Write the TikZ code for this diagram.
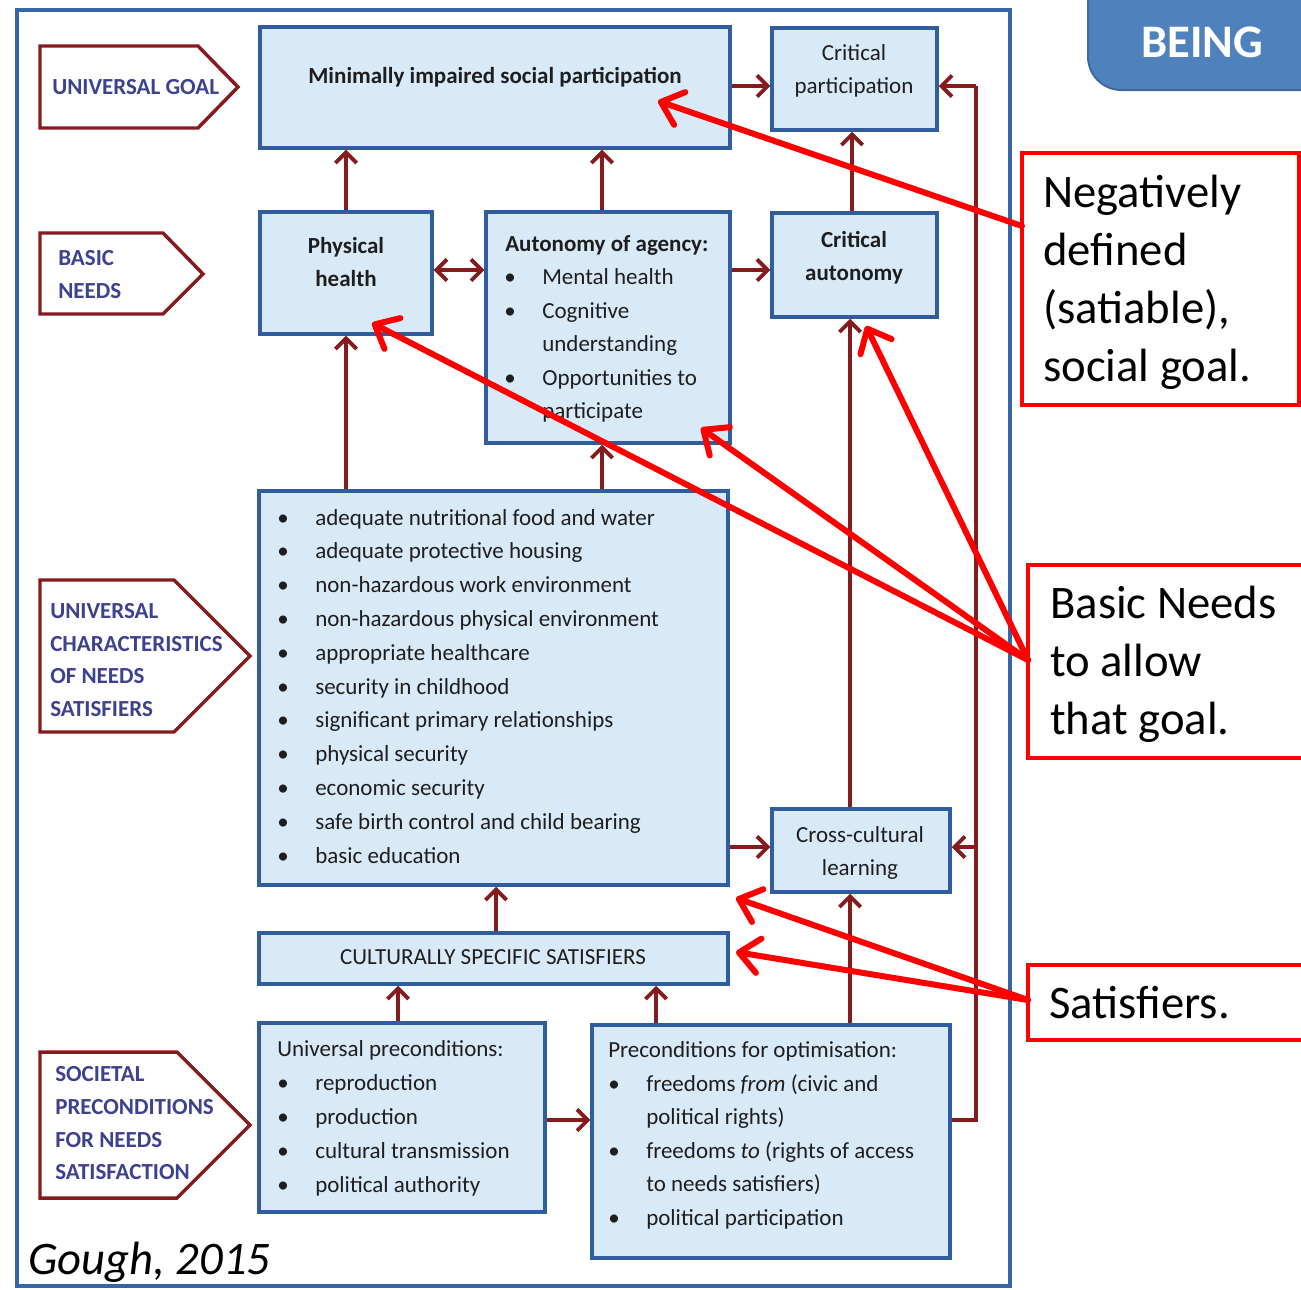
\documentclass[tikz,border=0pt]{standalone}
\usepackage{fontspec}
\setmainfont{Carlito}
\usetikzlibrary{arrows.meta,fit}

\definecolor{frameblue}{HTML}{3565AB}
\definecolor{boxline}{HTML}{2F5D9E}
\definecolor{boxfill}{HTML}{D8EAF8}
\definecolor{linkred}{HTML}{861B1E}
\definecolor{labelblue}{HTML}{3C4290}
\definecolor{tabblue}{HTML}{4F81BD}
\definecolor{tabedge}{HTML}{3F6A9C}
\definecolor{callred}{HTML}{FF0000}
\definecolor{ink}{HTML}{1E1E1E}

\begin{document}
\begin{tikzpicture}[x=0.75pt,y=-0.75pt,
  box/.style={draw=boxline, fill=boxfill, line width=2.6pt, inner sep=0pt},
  txt/.style={font=\fontsize{17.25pt}{25pt}\selectfont, text=ink, inner sep=0pt, anchor=base west},
  ctxt/.style={txt, anchor=base},
  btxt/.style={txt, font=\fontsize{17.25pt}{25pt}\selectfont\bfseries},
  cbtxt/.style={btxt, anchor=base},
  bul/.style={txt, anchor=base},
  lab/.style={font=\fontsize{17.25pt}{25pt}\selectfont\bfseries, text=labelblue, inner sep=0pt, anchor=base west},
  pent/.style={draw=linkred, line width=2.6pt, fill=white, line join=miter},
  tipr/.tip={Straight Barb[length=8pt,width=16pt]},
  link/.style={draw=linkred, line width=2.8pt, -tipr},
  link2/.style={draw=linkred, line width=2.8pt, tipr-tipr},
  feed/.style={draw=linkred, line width=2.8pt, line join=miter},
  callbox/.style={draw=callred, line width=3pt, fill=white, inner sep=0pt},
  callout/.style={draw=callred, line width=4.5pt, line cap=round, -{Straight Barb[length=15pt,width=26pt,round]}},
  calltxt/.style={font=\fontsize{35pt}{43.5pt}\selectfont, text=black, inner sep=0pt, anchor=base west},
]
\useasboundingbox (0,0) rectangle (1301,1289);
\fill[white] (0,0) rectangle (1301,1289);

% outer frame of the scheme
\draw[frameblue, line width=2.6pt] (17,10) rectangle (1010,1286);

% section tab
\draw[tabedge, fill=tabblue, line width=1.5pt, rounded corners=25pt] (1088,-40) rectangle (1340,90);
\node[font=\fontsize{35pt}{40pt}\selectfont\bfseries, text=white, inner sep=0pt, anchor=base] (being) at (1202,57) {BEING};

% level labels (pentagon arrows)
\draw[pent] (40,46) -- (198,46) -- (238,87) -- (198,128) -- (40,128) -- cycle;
\draw[pent] (40,233) -- (163,233) -- (203,274) -- (163,314) -- (40,314) -- cycle;
\draw[pent] (40,580) -- (174,580) -- (250,656) -- (174,732) -- (40,732) -- cycle;
\draw[pent] (40,1052) -- (177,1052) -- (250,1125) -- (177,1198) -- (40,1198) -- cycle;

\node[lab] (lgoal) at (52,94) {UNIVERSAL GOAL};
\node[lab] (lbasic1) at (58,265) {BASIC};
\node[lab] (lbasic2) at (58,298) {NEEDS};
\node[lab] (lchar1) at (50,618) {UNIVERSAL};
\node[lab] (lchar2) at (50,651) {CHARACTERISTICS};
\node[lab] (lchar3) at (50,683) {OF NEEDS};
\node[lab] (lchar4) at (50,716) {SATISFIERS};
\node[lab] (lsoc1) at (55,1081) {SOCIETAL};
\node[lab] (lsoc2) at (55,1114) {PRECONDITIONS};
\node[lab] (lsoc3) at (55,1147) {FOR NEEDS};
\node[lab] (lsoc4) at (55,1179) {SATISFACTION};

% boxes
\node[box, fit={(260,27) (730,148)}] (misp) {};
\node[box, fit={(772,28) (937,130)}] (cp) {};
\node[box, fit={(260,212) (432,334)}] (ph) {};
\node[box, fit={(486,212) (730,443)}] (aa) {};
\node[box, fit={(772,213) (937,317)}] (ca) {};
\node[box, fit={(259,491) (728,885)}] (uc) {};
\node[box, fit={(772,809) (950,892)}] (ccl) {};
\node[box, fit={(259,933) (728,984)}] (css) {};
\node[box, fit={(259,1023) (545,1212)}] (up) {};
\node[box, fit={(592,1025) (950,1258)}] (po) {};

% box texts
\node[cbtxt] (mispt) at (495,83) {Minimally impaired social participation};
\node[ctxt] (cpt1) at (854,60) {Critical};
\node[ctxt] (cpt2) at (854,93) {participation};
\node[cbtxt] (pht1) at (346,253) {Physical};
\node[cbtxt] (pht2) at (346,286) {health};
\node[btxt] (aat0) at (505,251) {Autonomy of agency:};
\node[bul] (aab1) at (510,284) {\textbullet};
\node[txt] (aat1) at (542,284) {Mental health};
\node[bul] (aab2) at (510,318) {\textbullet};
\node[txt] (aat2) at (542,318) {Cognitive};
\node[txt] (aat3) at (542,351) {understanding};
\node[bul] (aab3) at (510,385) {\textbullet};
\node[txt] (aat4) at (542,385) {Opportunities to};
\node[txt] (aat5) at (542,418) {participate};
\node[cbtxt] (cat1) at (854,247) {Critical};
\node[cbtxt] (cat2) at (854,280) {autonomy};

\foreach \t [count=\i from 0] in {adequate nutritional food and water,
  adequate protective housing, non-hazardous work environment,
  non-hazardous physical environment, appropriate healthcare,
  security in childhood, significant primary relationships,
  physical security, economic security,
  safe birth control and child bearing, basic education}
{
  \node[bul] (ucb\i) at (283,525+\i*33.8) {\textbullet};
  \node[txt] (ucl\i) at (315,525+\i*33.8) {\t};
}

\node[ctxt] (cclt1) at (860,842) {Cross-cultural};
\node[ctxt] (cclt2) at (860,875) {learning};
\node[ctxt] (csst) at (493,964) {CULTURALLY SPECIFIC SATISFIERS};

\node[txt] (upt0) at (277,1056) {Universal preconditions:};
\foreach \t [count=\i from 0] in {reproduction, production,
  cultural transmission, political authority}
{
  \node[bul] (upb\i) at (283,1090+\i*34) {\textbullet};
  \node[txt] (upl\i) at (315,1090+\i*34) {\t};
}

\node[txt] (pot0) at (608,1057) {Preconditions for optimisation:};
\node[bul] (pob1) at (614,1091) {\textbullet};
\node[txt] (pot1) at (646,1091) {freedoms \emph{from} (civic and};
\node[txt] (pot2) at (646,1124) {political rights)};
\node[bul] (pob2) at (614,1158) {\textbullet};
\node[txt] (pot3) at (646,1158) {freedoms \emph{to} (rights of access};
\node[txt] (pot4) at (646,1191) {to needs satisfiers)};
\node[bul] (pob3) at (614,1225) {\textbullet};
\node[txt] (pot5) at (646,1225) {political participation};

% connectors between boxes
\draw[link] (misp.east |- 0,86) -- (cp.west |- 0,86);
\draw[link] (ph.north) -- (ph.north |- misp.south);
\draw[link] (aa.north -| 602,0) -- (misp.south -| 602,0);
\draw[link] (ca.north -| 852,0) -- (cp.south -| 852,0);
\draw[link2] (ph.east |- 0,270) -- (aa.west |- 0,270);
\draw[link] (aa.east |- 0,270) -- (ca.west |- 0,270);
\draw[link] (uc.north -| ph.south) -- (ph.south);
\draw[link] (uc.north -| 602,0) -- (aa.south -| 602,0);
\draw[link] (ccl.north -| 850,0) -- (ca.south -| 850,0);
\draw[link] (uc.east |- 0,847) -- (ccl.west |- 0,847);
\draw[link] (css.north -| 496,0) -- (uc.south -| 496,0);
\draw[link] (up.north -| 398,0) -- (css.south -| 398,0);
\draw[link] (po.north -| 656,0) -- (css.south -| 656,0);
\draw[link] (po.north -| 850,0) -- (ccl.south -| 850,0);
\draw[link] (up.east |- 0,1120) -- (po.west |- 0,1120);

% feedback line on the right
\coordinate (fbtop) at (976,86);
\coordinate (fbmid) at (976,847);
\coordinate (fbbot) at (976,1120);
\draw[feed] (po.east |- fbbot) -- (fbbot) -- (fbtop);
\draw[link] (fbtop) -- (cp.east |- fbtop);
\draw[link] (fbmid) -- (ccl.east |- fbmid);

% source reference
\node[font=\fontsize{35pt}{40pt}\selectfont\itshape, text=black, inner sep=0pt, anchor=base west] (src) at (28,1274) {Gough, 2015};

% callout boxes
\node[callbox, fit={(1022,153) (1299,405)}] (neg) {};
\node[calltxt] (negt1) at (1043,207) {Negatively};
\node[calltxt] (negt2) at (1043,265) {defined};
\node[calltxt] (negt3) at (1043,323) {(satiable),};
\node[calltxt] (negt4) at (1043,381) {social goal.};

\node[callbox, fit={(1028,565) (1306,758)}] (bn) {};
\node[calltxt] (bnt1) at (1050,618) {Basic Needs};
\node[calltxt] (bnt2) at (1050,676) {to allow};
\node[calltxt] (bnt3) at (1050,734) {that goal.};

\node[callbox, fit={(1028,965) (1306,1040)}] (sat) {};
\node[calltxt] (satt) at (1049,1018) {Satisfiers.};

% callout arrows
\coordinate (negfrom) at (1022,226);
\coordinate (negto) at (658,101);
\coordinate (bnfrom) at (1028,660);
\coordinate (bnto1) at (372,323);
\coordinate (bnto2) at (701,428);
\coordinate (bnto3) at (866,326);
\coordinate (satfrom) at (1028,1000);
\coordinate (satto1) at (736,898);
\coordinate (satto2) at (736,952);
\draw[callout] (negfrom) -- (negto);
\draw[callout] (bnfrom) -- (bnto1);
\draw[callout] (bnfrom) -- (bnto2);
\draw[callout] (bnfrom) -- (bnto3);
\draw[callout] (satfrom) -- (satto1);
\draw[callout] (satfrom) -- (satto2);
\end{tikzpicture}
\end{document}
